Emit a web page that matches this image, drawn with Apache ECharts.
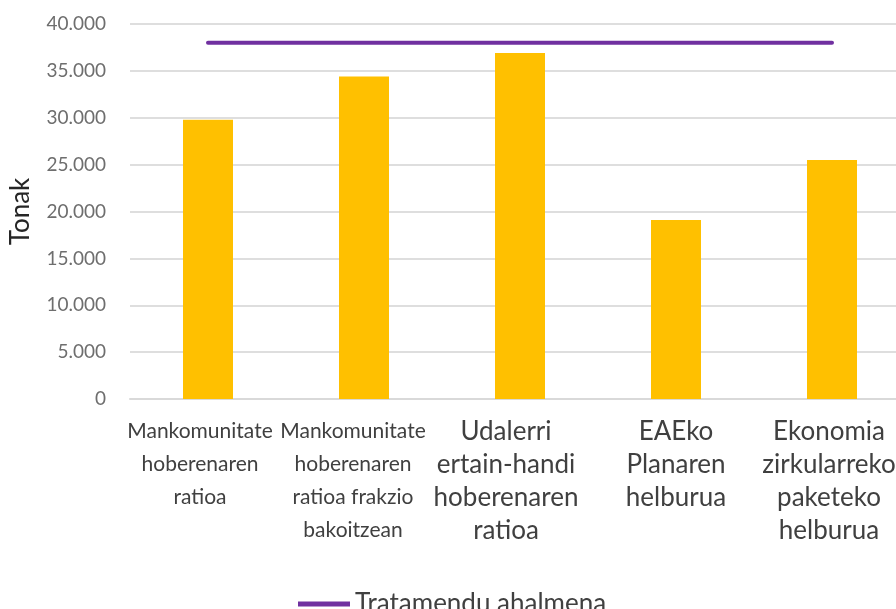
<!DOCTYPE html>
<html>
<head>
<meta charset="utf-8">
<script src="https://cdn.jsdelivr.net/npm/echarts@6/dist/echarts.min.js"></script>
<style>
  html, body { margin: 0; padding: 0; background: #ffffff; overflow: hidden; }
  #chart { width: 910px; height: 609px; }
</style>
</head>
<body>
<div id="chart"></div>
<script>
// Category labels, already split into the lines they are drawn on
const categories = [
  'Mankomunitate\nhoberenaren\nratioa',
  'Mankomunitate\nhoberenaren\nratioa frakzio\nbakoitzean',
  'Udalerri\nertain-handi\nhoberenaren\nratioa',
  'EAEko\nPlanaren\nhelburua',
  'Ekonomia\nzirkularreko\npaketeko\nhelburua'
];
// Tonnes for each scenario (bars)
const tonnes = [29800, 34400, 36900, 19100, 25500];
// Treatment capacity (horizontal line)
const capacity = [38000, 38000, 38000, 38000, 38000];
// Rich-text style used by each category label (c0 .. c4)
const labelStyleKeys = ['c0', 'c1', 'c2', 'c3', 'c4'];

const axisTitle = 'Tonak';
const lineName = 'Tratamendu ahalmena';

const chart = echarts.init(document.getElementById('chart'), null, { renderer: 'canvas' });

function thousands(v) {
  return String(v).replace(/\B(?=(\d{3})+(?!\d))/g, '.');
}

// narrow and wide label faces; right padding nudges a label left of its bar
function narrow(padRight) {
  return { fontFamily: 'Lato', fontSize: 21, lineHeight: 33, color: '#404040', padding: [0, padRight, 0, 0] };
}
function wide(padRight) {
  return { fontFamily: 'Lato', fontSize: 26, lineHeight: 33, color: '#404040', padding: [0, padRight, 0, 0] };
}

chart.setOption({
  animation: false,
  backgroundColor: '#ffffff',
  grid: {
    left: 130, top: 24, width: 780, height: 375,
    containLabel: false,
    outerBoundsMode: 'none'
  },
  legend: {
    left: 293,
    top: 586,
    itemWidth: 52,
    itemHeight: 5,
    itemGap: 20,
    textStyle: { fontFamily: 'Lato', fontSize: 26, color: '#404040' },
    data: [{ name: lineName, icon: 'rect' }]
  },
  xAxis: {
    type: 'category',
    data: categories,
    boundaryGap: true,
    axisLine: { show: true, lineStyle: { color: '#d9d9d9', width: 2 } },
    axisTick: { show: false },
    axisLabel: {
      interval: 0,
      margin: 16,
      formatter: function (value, idx) {
        const key = labelStyleKeys[idx];
        return value.split('\n').map(function (s) { return '{' + key + '|' + s + '}'; }).join('\n');
      },
      rich: {
        c0: narrow(16),
        c1: narrow(22),
        c2: wide(28),
        c3: wide(0),
        c4: wide(6)
      }
    }
  },
  yAxis: {
    type: 'value',
    min: 0,
    max: 40000,
    interval: 5000,
    name: axisTitle,
    nameLocation: 'middle',
    nameGap: 96,
    nameRotate: 90,
    nameTextStyle: { fontFamily: 'Lato', fontSize: 26, color: '#262626' },
    axisLine: { show: false },
    axisTick: { show: false },
    axisLabel: {
      margin: 24,
      fontFamily: 'Lato',
      fontSize: 19,
      color: '#6e6e6e',
      formatter: thousands
    },
    splitLine: { lineStyle: { color: '#dedede', width: 2 } }
  },
  series: [
    {
      name: 'Tonak',
      type: 'bar',
      data: tonnes,
      barWidth: 50,
      itemStyle: { color: '#FFC000' }
    },
    {
      name: lineName,
      type: 'line',
      data: capacity,
      symbol: 'none',
      lineStyle: { color: '#7030A0', width: 4, cap: 'round' },
      itemStyle: { color: '#7030A0' }
    }
  ]
});
</script>
</body>
</html>
